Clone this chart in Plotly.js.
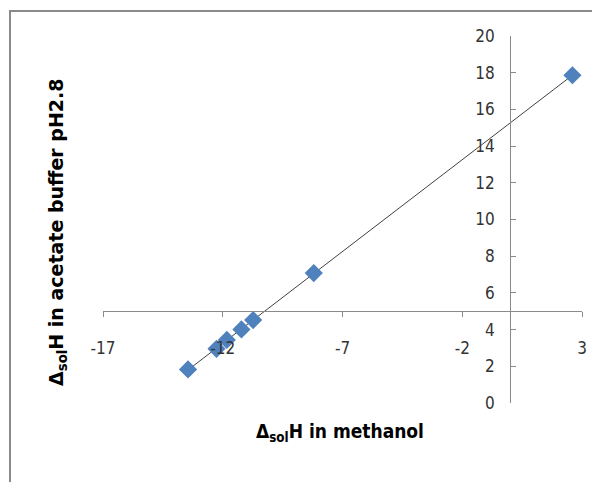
<!DOCTYPE html>
<html>
<head>
<meta charset="utf-8">
<script src="https://cdn.plot.ly/plotly-3.0.1.min.js"></script>
<style>
  html, body { margin: 0; padding: 0; background: #fff; }
  #frame { position: absolute; left: 9px; top: 10px; width: 600px; height: 490px;
           border-left: 2px solid #8a8a8a; border-top: 2px solid #8a8a8a; }
  #chart { position: absolute; left: 0; top: 0; width: 592px; height: 482px; }
</style>
</head>
<body>
<div id="frame"></div>
<div id="chart"></div>
<script>
// Data
const methanolH = [-13.45, -12.26, -11.83, -11.22, -10.73, -8.20, 2.60];
const acetateH  = [1.83, 2.95, 3.44, 4.01, 4.52, 7.08, 17.86];
const xTickVals = [-17, -12, -7, -2, 3];
const yTickVals = [0, 2, 4, 6, 8, 10, 12, 14, 16, 18, 20];

// Linear trendline (least squares) from the data
const n = methanolH.length;
const mx = methanolH.reduce((a, b) => a + b, 0) / n;
const my = acetateH.reduce((a, b) => a + b, 0) / n;
let sxy = 0, sxx = 0;
for (let i = 0; i < n; i++) {
  sxy += (methanolH[i] - mx) * (acetateH[i] - my);
  sxx += (methanolH[i] - mx) ** 2;
}
const slope = sxy / sxx, intercept = my - slope * mx;
const tx = [Math.min(...methanolH), Math.max(...methanolH)];
const ty = tx.map(v => slope * v + intercept);

const narrow = '"DejaVu Sans Condensed", "Liberation Sans Narrow", "Open Sans", sans-serif';
const tickFont = { family: narrow, size: 17, color: '#333' };

const traces = [
  { x: tx, y: ty, mode: 'lines', type: 'scatter',
    line: { color: '#404040', width: 1 }, hoverinfo: 'skip', showlegend: false },
  { x: methanolH, y: acetateH, mode: 'markers', type: 'scatter',
    marker: { symbol: 'diamond', size: 14, color: '#4f81bd' }, showlegend: false }
];

const layout = {
  width: 592, height: 482,
  margin: { l: 103, r: 10, t: 36, b: 79 },
  paper_bgcolor: 'rgba(0,0,0,0)', plot_bgcolor: 'rgba(0,0,0,0)',
  showlegend: false,
  xaxis: {
    range: [-17, 3], tickvals: xTickVals, ticktext: xTickVals.map(String),
    anchor: 'free', position: 0.25, side: 'bottom',
    showline: true, linecolor: '#8a8a8a', linewidth: 1,
    ticks: 'outside', ticklen: 5, tickcolor: '#8a8a8a',
    showgrid: false, zeroline: false, tickfont: tickFont, ticklabelstandoff: 16
  },
  yaxis: {
    range: [0, 20], tickvals: yTickVals, ticktext: yTickVals.map(String),
    anchor: 'free', position: 0.85, side: 'left',
    showline: true, linecolor: '#8a8a8a', linewidth: 1,
    ticks: 'inside', ticklen: 5, tickcolor: '#8a8a8a',
    showgrid: false, zeroline: false, tickfont: tickFont, ticklabelstandoff: 12
  },
  annotations: [
    { text: '<b>Δ<sub>sol</sub>H in methanol</b>', xref: 'paper', yref: 'paper',
      x: (340 - 103) / 479, y: -(432 - 403) / 367, xanchor: 'center', yanchor: 'middle',
      showarrow: false,
      font: { family: narrow, size: 19, color: '#000' } },
    { text: '<b>Δ<sub>sol</sub>H in acetate buffer pH2.8</b>', xref: 'paper', yref: 'paper',
      x: -(103 - 57) / 479, y: (403 - 232) / 367, xanchor: 'center', yanchor: 'middle',
      textangle: -90, showarrow: false,
      font: { family: '"DejaVu Sans", Verdana, sans-serif', size: 19, color: '#000' } }
  ]
};

Plotly.newPlot('chart', traces, layout, { displayModeBar: false, staticPlot: true });
</script>
</body>
</html>
